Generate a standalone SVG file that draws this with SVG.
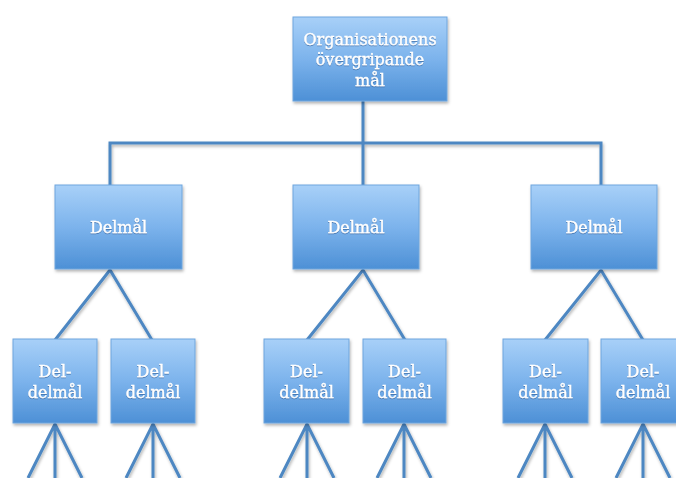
<svg xmlns="http://www.w3.org/2000/svg" width="676" height="478" viewBox="0 0 676 478">
<defs>
<linearGradient id="g" x1="0" y1="0" x2="0" y2="1">
<stop offset="0" stop-color="#a8d0f8"/>
<stop offset="0.5" stop-color="#7cb3ec"/>
<stop offset="1" stop-color="#4d90d6"/>
</linearGradient>
<filter id="sh" x="-20%" y="-20%" width="140%" height="140%">
<feDropShadow dx="1" dy="2" stdDeviation="1.5" flood-color="#000" flood-opacity="0.3"/>
</filter>
<filter id="ts" x="-10%" y="-10%" width="120%" height="130%">
<feDropShadow dx="0" dy="1" stdDeviation="0.6" flood-color="#1a4a80" flood-opacity="0.5"/>
</filter>
</defs>
<style>
.box{fill:url(#g);stroke:#6ea6dd;stroke-width:1;filter:url(#sh)}
.t{font-family:"DejaVu Serif",serif;font-size:16px;fill:#fff;stroke:#fff;stroke-width:0.35;text-anchor:middle;filter:url(#ts)}
.c{fill:none;stroke:#4d87c2;stroke-width:3;stroke-linejoin:miter;filter:url(#sh)}
</style>
<rect width="676" height="478" fill="#fff"/>
<g id="connectors">
<path class="c" d="M363,101 V143 M110,186 V143 H601 V186 M363,143 V186"/>
<path class="c" d="M55,340 L110,270 L152,340 M307,340 L363,270 L405,340 M545,340 L601,270 L643,340"/>
<path class="c" d="M28,478 L55,424 L82,478 M55,424 V478"/>
<path class="c" d="M126,478 L153,424 L180,478 M153,424 V478"/>
<path class="c" d="M280,478 L307,424 L334,478 M307,424 V478"/>
<path class="c" d="M377,478 L404,424 L431,478 M404,424 V478"/>
<path class="c" d="M518,478 L545,424 L572,478 M545,424 V478"/>
<path class="c" d="M616,478 L643,424 L670,478 M643,424 V478"/>
</g>
<g id="top">
<rect class="box" x="293" y="17" width="154" height="84"/>
<text class="t" x="370" y="45">Organisationens</text>
<text class="t" x="370" y="65">övergripande</text>
<text class="t" x="370" y="86">mål</text>
</g>
<g id="delmal1">
<rect class="box" x="55" y="185" width="127" height="84"/>
<text class="t" x="118.5" y="233">Delmål</text>
</g>
<g id="delmal2">
<rect class="box" x="293" y="185" width="126" height="84"/>
<text class="t" x="356" y="233">Delmål</text>
</g>
<g id="delmal3">
<rect class="box" x="531" y="185" width="126" height="84"/>
<text class="t" x="594" y="233">Delmål</text>
</g>
<g id="sub1">
<rect class="box" x="13" y="339" width="84" height="84"/>
<text class="t" x="55" y="377">Del-</text>
<text class="t" x="55" y="398">delmål</text>
</g>
<g id="sub2">
<rect class="box" x="111" y="339" width="84" height="84"/>
<text class="t" x="153" y="377">Del-</text>
<text class="t" x="153" y="398">delmål</text>
</g>
<g id="sub3">
<rect class="box" x="264" y="339" width="85" height="84"/>
<text class="t" x="306.5" y="377">Del-</text>
<text class="t" x="306.5" y="398">delmål</text>
</g>
<g id="sub4">
<rect class="box" x="363" y="339" width="83" height="84"/>
<text class="t" x="404.5" y="377">Del-</text>
<text class="t" x="404.5" y="398">delmål</text>
</g>
<g id="sub5">
<rect class="box" x="503" y="339" width="85" height="84"/>
<text class="t" x="545.5" y="377">Del-</text>
<text class="t" x="545.5" y="398">delmål</text>
</g>
<g id="sub6">
<rect class="box" x="601" y="339" width="84" height="84"/>
<text class="t" x="643" y="377">Del-</text>
<text class="t" x="643" y="398">delmål</text>
</g>
</svg>
